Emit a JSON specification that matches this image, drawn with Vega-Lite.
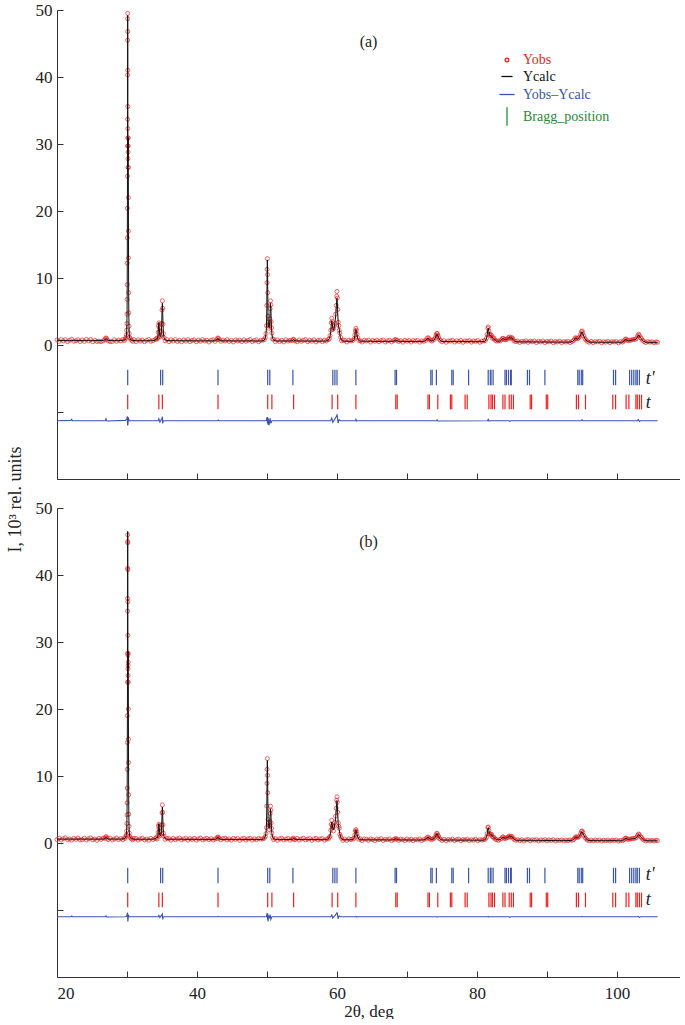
{
"$schema": "https://vega.github.io/schema/vega-lite/v6.json",
"padding": {"left": 6, "top": 1, "right": 0, "bottom": 0},
"bounds": "flush",
"spacing": 29,
"config": {
  "view": {"stroke": null},
  "font": "Liberation Serif",
  "axis": {"domainColor": "#333", "tickColor": "#333", "labelFont": "Liberation Serif", "labelFontSize": 17, "labelColor": "#222", "titleFont": "Liberation Serif", "titleFontSize": 18, "titleFontWeight": "normal", "titleColor": "#222", "grid": false, "tickSize": -6, "labelPadding": 11, "domain": true, "ticks": true},
  "legend": {"labelFont": "Liberation Serif", "labelFontSize": 14, "labelOffset": 6, "rowPadding": 2.5, "symbolOpacity": 1, "symbolStrokeWidth": 1.3, "titleFont": "Liberation Serif"},
  "title": {"font": "Liberation Serif", "fontSize": 16, "fontWeight": "normal", "color": "#222"}
},
"datasets": {
"pattern": [
{"tt":20.0,"oa":0.76,"ca":0.66,"ob":0.5,"cb":0.58},{"tt":20.3,"oa":0.55,"ca":0.66,"ob":0.72,"cb":0.58},{"tt":20.6,"oa":0.82,"ca":0.66,"ob":0.46,"cb":0.58},{"tt":20.9,"oa":0.6,"ca":0.66,"ob":0.64,"cb":0.58},
{"tt":21.2,"oa":0.8,"ca":0.66,"ob":0.77,"cb":0.58},{"tt":21.5,"oa":0.5,"ca":0.66,"ob":0.5,"cb":0.58},{"tt":21.8,"oa":0.7,"ca":0.66,"ob":0.6,"cb":0.58},{"tt":22.1,"oa":0.85,"ca":0.66,"ob":0.42,"cb":0.58},
{"tt":22.4,"oa":0.56,"ca":0.66,"ob":0.7,"cb":0.58},{"tt":22.7,"oa":0.64,"ca":0.66,"ob":0.54,"cb":0.58},{"tt":23.0,"oa":0.78,"ca":0.66,"ob":0.74,"cb":0.58},{"tt":23.3,"oa":0.51,"ca":0.66,"ob":0.46,"cb":0.58},
{"tt":23.6,"oa":0.76,"ca":0.66,"ob":0.5,"cb":0.58},{"tt":23.9,"oa":0.54,"ca":0.66,"ob":0.73,"cb":0.58},{"tt":24.2,"oa":0.84,"ca":0.66,"ob":0.44,"cb":0.58},{"tt":24.5,"oa":0.61,"ca":0.66,"ob":0.64,"cb":0.58},
{"tt":24.8,"oa":0.8,"ca":0.66,"ob":0.77,"cb":0.58},{"tt":25.1,"oa":0.48,"ca":0.66,"ob":0.48,"cb":0.58},{"tt":25.4,"oa":0.7,"ca":0.66,"ob":0.6,"cb":0.58},{"tt":25.7,"oa":0.52,"ca":0.66,"ob":0.4,"cb":0.58},
{"tt":26.0,"oa":0.58,"ca":0.66,"ob":0.7,"cb":0.58},{"tt":26.3,"oa":0.5,"ca":0.66,"ob":0.54,"cb":0.58},{"tt":26.6,"oa":0.62,"ca":0.67,"ob":0.74,"cb":0.59},{"tt":26.85,"oa":0.8,"ca":0.75,"ob":0.7,"cb":0.65},
{"tt":26.95,"oa":1.05,"ca":0.92,"ob":0.88,"cb":0.8},{"tt":27.05,"oa":1.0,"ca":0.95,"ob":0.95,"cb":0.82},{"tt":27.15,"oa":0.82,"ca":0.8,"ob":0.7,"cb":0.68},{"tt":27.3,"oa":0.6,"ca":0.68,"ob":0.5,"cb":0.6},
{"tt":27.6,"oa":0.5,"ca":0.66,"ob":0.72,"cb":0.58},{"tt":27.9,"oa":0.52,"ca":0.66,"ob":0.46,"cb":0.58},{"tt":28.2,"oa":0.78,"ca":0.66,"ob":0.6,"cb":0.58},{"tt":28.5,"oa":0.55,"ca":0.66,"ob":0.75,"cb":0.58},
{"tt":28.8,"oa":0.74,"ca":0.66,"ob":0.5,"cb":0.58},{"tt":29.1,"oa":0.6,"ca":0.67,"ob":0.66,"cb":0.59},{"tt":29.4,"oa":0.82,"ca":0.69,"ob":0.5,"cb":0.61},{"tt":29.6,"oa":0.66,"ca":0.73,"ob":0.75,"cb":0.65},
{"tt":29.75,"oa":0.9,"ca":0.82,"ob":0.7,"cb":0.74},{"tt":29.85,"oa":1.1,"ca":1.0,"ob":1.0,"cb":0.95},{"tt":29.9,"oa":1.5,"ca":1.3,"ob":1.2,"cb":1.2},{"tt":29.95,"oa":2.2,"ca":2.0,"ob":1.8,"cb":1.9},
{"tt":29.98,"oa":3.2,"ca":3.1,"ob":2.9,"cb":3.0},{"tt":30.0,"oa":4.6,"ca":4.4,"ob":4.2,"cb":4.3},{"tt":30.02,"oa":6.8,"ca":6.5,"ob":6.0,"cb":6.3},{"tt":30.03,"oa":9.0,"ca":8.8,"ob":8.2,"cb":8.6},
{"tt":30.04,"oa":12.2,"ca":11.8,"ob":11.0,"cb":11.5},{"tt":30.05,"oa":16.0,"ca":15.8,"ob":15.0,"cb":15.4},{"tt":30.06,"oa":20.4,"ca":20.0,"ob":19.0,"cb":19.2},{"tt":30.07,"oa":25.2,"ca":25.8,"ob":24.0,"cb":24.5},
{"tt":30.075,"oa":29.7,"ca":30.0,"ob":28.3,"cb":28.5},{"tt":30.08,"oa":33.7,"ca":35.0,"ob":34.6,"cb":33.0},{"tt":30.085,"oa":40.3,"ca":40.5,"ob":36.5,"cb":38.0},{"tt":30.09,"oa":45.5,"ca":45.5,"ob":41.0,"cb":42.5},
{"tt":30.095,"oa":48.7,"ca":48.5,"ob":45.0,"cb":45.5},{"tt":30.1,"oa":49.5,"ca":49.2,"ob":46.0,"cb":46.5},{"tt":30.105,"oa":46.8,"ca":48.0,"ob":44.8,"cb":45.5},{"tt":30.11,"oa":41.0,"ca":44.5,"ob":40.8,"cb":42.0},
{"tt":30.115,"oa":35.6,"ca":40.0,"ob":36.0,"cb":37.5},{"tt":30.12,"oa":32.3,"ca":35.0,"ob":31.0,"cb":33.0},{"tt":30.13,"oa":30.9,"ca":31.0,"ob":28.0,"cb":29.0},{"tt":30.14,"oa":27.8,"ca":28.5,"ob":26.0,"cb":26.8},
{"tt":30.15,"oa":26.5,"ca":27.5,"ob":25.0,"cb":26.0},{"tt":30.16,"oa":28.8,"ca":29.5,"ob":26.5,"cb":27.2},{"tt":30.17,"oa":30.9,"ca":31.0,"ob":28.3,"cb":28.6},{"tt":30.18,"oa":29.7,"ca":30.0,"ob":27.0,"cb":27.5},
{"tt":30.19,"oa":26.5,"ca":26.5,"ob":24.0,"cb":24.3},{"tt":30.2,"oa":22.0,"ca":21.5,"ob":20.0,"cb":19.8},{"tt":30.21,"oa":17.0,"ca":16.8,"ob":15.5,"cb":15.4},{"tt":30.22,"oa":13.0,"ca":12.8,"ob":12.0,"cb":11.8},
{"tt":30.24,"oa":7.8,"ca":7.6,"ob":7.2,"cb":7.0},{"tt":30.26,"oa":4.8,"ca":4.6,"ob":4.3,"cb":4.2},{"tt":30.29,"oa":2.8,"ca":2.7,"ob":2.5,"cb":2.5},{"tt":30.33,"oa":1.7,"ca":1.6,"ob":1.5,"cb":1.5},
{"tt":30.4,"oa":1.1,"ca":1.05,"ob":1.0,"cb":0.95},{"tt":30.5,"oa":0.9,"ca":0.82,"ob":0.75,"cb":0.75},{"tt":30.65,"oa":0.7,"ca":0.72,"ob":0.62,"cb":0.64},{"tt":30.8,"oa":0.55,"ca":0.68,"ob":0.48,"cb":0.6},
{"tt":31.0,"oa":0.8,"ca":0.66,"ob":0.7,"cb":0.58},{"tt":31.3,"oa":0.5,"ca":0.64,"ob":0.68,"cb":0.56},{"tt":31.6,"oa":0.78,"ca":0.64,"ob":0.44,"cb":0.56},{"tt":31.9,"oa":0.58,"ca":0.64,"ob":0.62,"cb":0.56},
{"tt":32.2,"oa":0.74,"ca":0.64,"ob":0.72,"cb":0.56},{"tt":32.5,"oa":0.5,"ca":0.64,"ob":0.46,"cb":0.56},{"tt":32.8,"oa":0.7,"ca":0.64,"ob":0.6,"cb":0.56},{"tt":33.1,"oa":0.82,"ca":0.64,"ob":0.4,"cb":0.56},
{"tt":33.4,"oa":0.55,"ca":0.64,"ob":0.7,"cb":0.56},{"tt":33.7,"oa":0.66,"ca":0.65,"ob":0.52,"cb":0.57},{"tt":34.0,"oa":0.8,"ca":0.7,"ob":0.66,"cb":0.62},{"tt":34.2,"oa":0.95,"ca":0.9,"ob":0.8,"cb":0.78},
{"tt":34.3,"oa":0.9,"ca":0.83,"ob":0.6,"cb":0.72},{"tt":34.4,"oa":1.1,"ca":1.18,"ob":1.1,"cb":1.02},{"tt":34.45,"oa":1.9,"ca":1.72,"ob":1.6,"cb":1.48},{"tt":34.5,"oa":2.9,"ca":2.66,"ob":2.5,"cb":2.28},
{"tt":34.55,"oa":3.3,"ca":3.4,"ob":2.8,"cb":2.91},{"tt":34.6,"oa":2.6,"ca":2.74,"ob":2.2,"cb":2.35},{"tt":34.65,"oa":2.0,"ca":1.83,"ob":1.7,"cb":1.58},{"tt":34.7,"oa":1.2,"ca":1.35,"ob":1.05,"cb":1.17},
{"tt":34.8,"oa":1.35,"ca":1.22,"ob":1.2,"cb":1.06},{"tt":34.9,"oa":2.0,"ca":1.84,"ob":1.8,"cb":1.59},{"tt":34.95,"oa":3.2,"ca":2.92,"ob":2.7,"cb":2.51},{"tt":35.0,"oa":5.2,"ca":4.86,"ob":4.5,"cb":4.18},
{"tt":35.05,"oa":6.6,"ca":6.24,"ob":5.7,"cb":5.36},{"tt":35.1,"oa":5.5,"ca":4.9,"ob":4.6,"cb":4.2},{"tt":35.15,"oa":3.1,"ca":2.9,"ob":2.7,"cb":2.5},{"tt":35.2,"oa":1.7,"ca":1.8,"ob":1.45,"cb":1.55},
{"tt":35.3,"oa":1.1,"ca":1.03,"ob":1.0,"cb":0.9},{"tt":35.45,"oa":0.62,"ca":0.75,"ob":0.55,"cb":0.66},{"tt":35.7,"oa":0.8,"ca":0.66,"ob":0.7,"cb":0.57},
{"tt":36.0,"oa":0.5,"ca":0.64,"ob":0.66,"cb":0.56},{"tt":36.3,"oa":0.78,"ca":0.64,"ob":0.42,"cb":0.56},{"tt":36.6,"oa":0.6,"ca":0.64,"ob":0.7,"cb":0.56},{"tt":36.9,"oa":0.82,"ca":0.64,"ob":0.5,"cb":0.56},
{"tt":37.2,"oa":0.52,"ca":0.64,"ob":0.62,"cb":0.56},{"tt":37.5,"oa":0.7,"ca":0.64,"ob":0.74,"cb":0.56},{"tt":37.8,"oa":0.48,"ca":0.64,"ob":0.45,"cb":0.56},{"tt":38.1,"oa":0.76,"ca":0.63,"ob":0.6,"cb":0.55},
{"tt":38.4,"oa":0.58,"ca":0.63,"ob":0.72,"cb":0.55},{"tt":38.7,"oa":0.8,"ca":0.63,"ob":0.44,"cb":0.55},{"tt":39.0,"oa":0.5,"ca":0.63,"ob":0.66,"cb":0.55},{"tt":39.3,"oa":0.68,"ca":0.63,"ob":0.52,"cb":0.55},
{"tt":39.6,"oa":0.76,"ca":0.63,"ob":0.7,"cb":0.55},{"tt":39.9,"oa":0.48,"ca":0.62,"ob":0.42,"cb":0.54},{"tt":40.2,"oa":0.74,"ca":0.62,"ob":0.62,"cb":0.54},{"tt":40.5,"oa":0.56,"ca":0.62,"ob":0.73,"cb":0.54},
{"tt":40.8,"oa":0.8,"ca":0.62,"ob":0.46,"cb":0.54},{"tt":41.1,"oa":0.6,"ca":0.62,"ob":0.6,"cb":0.54},{"tt":41.4,"oa":0.72,"ca":0.62,"ob":0.7,"cb":0.54},{"tt":41.7,"oa":0.45,"ca":0.62,"ob":0.5,"cb":0.54},
{"tt":42.0,"oa":0.7,"ca":0.62,"ob":0.64,"cb":0.54},{"tt":42.3,"oa":0.78,"ca":0.62,"ob":0.44,"cb":0.54},{"tt":42.6,"oa":0.55,"ca":0.63,"ob":0.6,"cb":0.55},{"tt":42.85,"oa":0.8,"ca":0.75,"ob":0.68,"cb":0.66},
{"tt":42.95,"oa":1.05,"ca":0.98,"ob":0.9,"cb":0.86},{"tt":43.05,"oa":1.0,"ca":0.95,"ob":0.85,"cb":0.84},{"tt":43.15,"oa":0.78,"ca":0.74,"ob":0.7,"cb":0.64},{"tt":43.4,"oa":0.55,"ca":0.63,"ob":0.46,"cb":0.55},
{"tt":43.7,"oa":0.74,"ca":0.62,"ob":0.66,"cb":0.54},{"tt":44.0,"oa":0.6,"ca":0.62,"ob":0.72,"cb":0.54},{"tt":44.3,"oa":0.8,"ca":0.62,"ob":0.48,"cb":0.54},{"tt":44.6,"oa":0.52,"ca":0.62,"ob":0.6,"cb":0.54},
{"tt":44.9,"oa":0.7,"ca":0.62,"ob":0.42,"cb":0.54},{"tt":45.2,"oa":0.45,"ca":0.61,"ob":0.7,"cb":0.53},{"tt":45.5,"oa":0.76,"ca":0.61,"ob":0.54,"cb":0.53},{"tt":45.8,"oa":0.6,"ca":0.61,"ob":0.68,"cb":0.53},
{"tt":46.1,"oa":0.72,"ca":0.61,"ob":0.4,"cb":0.53},{"tt":46.4,"oa":0.5,"ca":0.61,"ob":0.62,"cb":0.53},{"tt":46.7,"oa":0.78,"ca":0.61,"ob":0.72,"cb":0.53},{"tt":47.0,"oa":0.55,"ca":0.61,"ob":0.46,"cb":0.53},
{"tt":47.3,"oa":0.7,"ca":0.61,"ob":0.6,"cb":0.53},{"tt":47.6,"oa":0.82,"ca":0.61,"ob":0.7,"cb":0.53},{"tt":47.9,"oa":0.5,"ca":0.61,"ob":0.44,"cb":0.53},{"tt":48.2,"oa":0.66,"ca":0.6,"ob":0.62,"cb":0.52},
{"tt":48.5,"oa":0.76,"ca":0.6,"ob":0.5,"cb":0.52},{"tt":48.8,"oa":0.48,"ca":0.6,"ob":0.7,"cb":0.52},{"tt":49.1,"oa":0.7,"ca":0.61,"ob":0.58,"cb":0.53},{"tt":49.4,"oa":0.72,"ca":0.64,"ob":0.62,"cb":0.56},
{"tt":49.6,"oa":0.8,"ca":0.72,"ob":0.7,"cb":0.64},{"tt":49.75,"oa":1.1,"ca":1.05,"ob":0.95,"cb":0.96},{"tt":49.85,"oa":1.7,"ca":1.56,"ob":1.4,"cb":1.46},{"tt":49.92,"oa":2.9,"ca":2.64,"ob":2.3,"cb":2.51},
{"tt":49.97,"oa":5.9,"ca":5.4,"ob":5.5,"cb":5.2},{"tt":50.0,"oa":9.3,"ca":8.76,"ob":8.9,"cb":8.48},{"tt":50.02,"oa":11.3,"ca":10.8,"ob":11.0,"cb":10.5},{"tt":50.05,"oa":12.9,"ca":12.7,"ob":12.6,"cb":12.3},
{"tt":50.08,"oa":10.5,"ca":10.9,"ob":10.1,"cb":10.55},{"tt":50.11,"oa":7.8,"ca":7.3,"ob":7.5,"cb":7.0},{"tt":50.15,"oa":4.3,"ca":3.9,"ob":3.5,"cb":3.7},{"tt":50.2,"oa":3.4,"ca":3.1,"ob":3.1,"cb":2.9},
{"tt":50.25,"oa":2.5,"ca":2.7,"ob":2.6,"cb":2.4},{"tt":50.3,"oa":2.8,"ca":2.6,"ob":2.0,"cb":2.2},{"tt":50.35,"oa":3.2,"ca":2.9,"ob":2.6,"cb":2.4},{"tt":50.4,"oa":3.9,"ca":3.6,"ob":3.2,"cb":3.0},
{"tt":50.45,"oa":5.4,"ca":5.0,"ob":4.4,"cb":4.1},{"tt":50.5,"oa":6.6,"ca":6.2,"ob":5.5,"cb":5.1},{"tt":50.55,"oa":6.0,"ca":5.6,"ob":4.9,"cb":4.6},{"tt":50.6,"oa":3.5,"ca":3.8,"ob":3.0,"cb":3.2},
{"tt":50.65,"oa":2.6,"ca":2.4,"ob":2.2,"cb":2.0},{"tt":50.7,"oa":1.8,"ca":1.6,"ob":1.5,"cb":1.4},{"tt":50.8,"oa":0.9,"ca":1.0,"ob":0.8,"cb":0.85},{"tt":50.95,"oa":0.85,"ca":0.72,"ob":0.5,"cb":0.62},
{"tt":51.2,"oa":0.5,"ca":0.62,"ob":0.66,"cb":0.53},{"tt":51.5,"oa":0.75,"ca":0.6,"ob":0.4,"cb":0.52},{"tt":51.8,"oa":0.52,"ca":0.6,"ob":0.62,"cb":0.52},{"tt":52.1,"oa":0.7,"ca":0.6,"ob":0.7,"cb":0.52},
{"tt":52.4,"oa":0.46,"ca":0.6,"ob":0.45,"cb":0.52},{"tt":52.7,"oa":0.78,"ca":0.6,"ob":0.58,"cb":0.52},{"tt":53.0,"oa":0.58,"ca":0.6,"ob":0.68,"cb":0.52},{"tt":53.3,"oa":0.7,"ca":0.6,"ob":0.42,"cb":0.52},
{"tt":53.6,"oa":0.66,"ca":0.64,"ob":0.6,"cb":0.55},{"tt":53.75,"oa":0.85,"ca":0.78,"ob":0.72,"cb":0.68},{"tt":53.85,"oa":0.8,"ca":0.76,"ob":0.6,"cb":0.66},{"tt":54.0,"oa":0.62,"ca":0.63,"ob":0.5,"cb":0.54},
{"tt":54.3,"oa":0.48,"ca":0.6,"ob":0.7,"cb":0.52},{"tt":54.6,"oa":0.76,"ca":0.6,"ob":0.44,"cb":0.52},{"tt":54.9,"oa":0.55,"ca":0.6,"ob":0.6,"cb":0.52},{"tt":55.2,"oa":0.7,"ca":0.6,"ob":0.72,"cb":0.52},
{"tt":55.5,"oa":0.8,"ca":0.59,"ob":0.46,"cb":0.51},{"tt":55.8,"oa":0.5,"ca":0.59,"ob":0.58,"cb":0.51},{"tt":56.1,"oa":0.72,"ca":0.59,"ob":0.68,"cb":0.51},{"tt":56.4,"oa":0.56,"ca":0.59,"ob":0.4,"cb":0.51},
{"tt":56.7,"oa":0.78,"ca":0.59,"ob":0.62,"cb":0.51},{"tt":57.0,"oa":0.46,"ca":0.58,"ob":0.7,"cb":0.5},{"tt":57.3,"oa":0.68,"ca":0.58,"ob":0.46,"cb":0.5},{"tt":57.6,"oa":0.74,"ca":0.58,"ob":0.6,"cb":0.5},
{"tt":57.9,"oa":0.5,"ca":0.58,"ob":0.66,"cb":0.5},{"tt":58.2,"oa":0.72,"ca":0.58,"ob":0.42,"cb":0.5},{"tt":58.5,"oa":0.6,"ca":0.6,"ob":0.6,"cb":0.52},{"tt":58.75,"oa":0.8,"ca":0.7,"ob":0.62,"cb":0.6},
{"tt":58.9,"oa":0.95,"ca":0.95,"ob":0.82,"cb":0.82},{"tt":59.0,"oa":1.4,"ca":1.25,"ob":1.0,"cb":1.1},{"tt":59.1,"oa":2.2,"ca":2.0,"ob":1.9,"cb":1.75},{"tt":59.18,"oa":3.3,"ca":3.0,"ob":2.8,"cb":2.6},
{"tt":59.25,"oa":4.0,"ca":3.6,"ob":3.4,"cb":3.1},{"tt":59.32,"oa":3.5,"ca":3.2,"ob":2.6,"cb":2.8},{"tt":59.4,"oa":2.3,"ca":2.5,"ob":2.4,"cb":2.2},{"tt":59.5,"oa":2.5,"ca":2.2,"ob":1.8,"cb":1.95},
{"tt":59.6,"oa":2.9,"ca":2.6,"ob":2.5,"cb":2.3},{"tt":59.7,"oa":3.2,"ca":3.3,"ob":3.1,"cb":2.9},{"tt":59.8,"oa":4.6,"ca":4.2,"ob":4.0,"cb":3.7},{"tt":59.88,"oa":5.9,"ca":5.4,"ob":5.2,"cb":4.8},
{"tt":59.95,"oa":7.3,"ca":6.6,"ob":6.4,"cb":5.9},{"tt":60.0,"oa":8.0,"ca":7.0,"ob":6.9,"cb":6.3},{"tt":60.05,"oa":7.0,"ca":6.3,"ob":6.1,"cb":5.6},{"tt":60.1,"oa":5.3,"ca":4.8,"ob":4.6,"cb":4.3},
{"tt":60.18,"oa":3.4,"ca":3.1,"ob":3.0,"cb":2.8},{"tt":60.25,"oa":2.9,"ca":2.6,"ob":2.5,"cb":2.3},{"tt":60.32,"oa":2.2,"ca":2.4,"ob":2.2,"cb":2.0},{"tt":60.4,"oa":1.8,"ca":1.6,"ob":1.3,"cb":1.4},
{"tt":60.5,"oa":1.15,"ca":1.05,"ob":1.0,"cb":0.92},{"tt":60.65,"oa":0.62,"ca":0.72,"ob":0.7,"cb":0.62},{"tt":60.85,"oa":0.75,"ca":0.6,"ob":0.4,"cb":0.5},
{"tt":61.1,"oa":0.7,"ca":0.56,"ob":0.6,"cb":0.48},{"tt":61.4,"oa":0.45,"ca":0.56,"ob":0.38,"cb":0.48},{"tt":61.7,"oa":0.72,"ca":0.56,"ob":0.62,"cb":0.48},{"tt":62.0,"oa":0.6,"ca":0.56,"ob":0.5,"cb":0.48},
{"tt":62.3,"oa":0.7,"ca":0.6,"ob":0.6,"cb":0.52},{"tt":62.45,"oa":0.95,"ca":0.85,"ob":0.75,"cb":0.75},{"tt":62.55,"oa":1.5,"ca":1.4,"ob":1.2,"cb":1.2},{"tt":62.62,"oa":2.1,"ca":2.0,"ob":1.8,"cb":1.7},
{"tt":62.7,"oa":2.5,"ca":2.3,"ob":2.0,"cb":1.95},{"tt":62.78,"oa":2.2,"ca":2.05,"ob":1.75,"cb":1.75},{"tt":62.86,"oa":1.6,"ca":1.5,"ob":1.35,"cb":1.3},{"tt":62.95,"oa":1.1,"ca":1.0,"ob":0.9,"cb":0.9},
{"tt":63.1,"oa":0.7,"ca":0.7,"ob":0.55,"cb":0.6},{"tt":63.35,"oa":0.62,"ca":0.57,"ob":0.6,"cb":0.49},{"tt":63.6,"oa":0.45,"ca":0.56,"ob":0.36,"cb":0.48},{"tt":63.9,"oa":0.7,"ca":0.56,"ob":0.6,"cb":0.48},
{"tt":64.2,"oa":0.6,"ca":0.56,"ob":0.56,"cb":0.48},{"tt":64.5,"oa":0.74,"ca":0.56,"ob":0.4,"cb":0.48},{"tt":64.8,"oa":0.44,"ca":0.56,"ob":0.62,"cb":0.48},{"tt":65.1,"oa":0.68,"ca":0.55,"ob":0.52,"cb":0.47},
{"tt":65.4,"oa":0.56,"ca":0.55,"ob":0.36,"cb":0.47},{"tt":65.7,"oa":0.72,"ca":0.55,"ob":0.6,"cb":0.47},{"tt":66.0,"oa":0.48,"ca":0.55,"ob":0.5,"cb":0.47},{"tt":66.3,"oa":0.66,"ca":0.55,"ob":0.66,"cb":0.47},
{"tt":66.6,"oa":0.74,"ca":0.55,"ob":0.38,"cb":0.47},{"tt":66.9,"oa":0.45,"ca":0.55,"ob":0.56,"cb":0.47},{"tt":67.2,"oa":0.62,"ca":0.54,"ob":0.48,"cb":0.46},{"tt":67.5,"oa":0.7,"ca":0.54,"ob":0.62,"cb":0.46},
{"tt":67.8,"oa":0.46,"ca":0.54,"ob":0.36,"cb":0.46},{"tt":68.1,"oa":0.66,"ca":0.56,"ob":0.52,"cb":0.48},{"tt":68.3,"oa":0.8,"ca":0.7,"ob":0.66,"cb":0.6},{"tt":68.45,"oa":0.78,"ca":0.74,"ob":0.58,"cb":0.62},
{"tt":68.6,"oa":0.7,"ca":0.64,"ob":0.6,"cb":0.54},{"tt":68.8,"oa":0.52,"ca":0.55,"ob":0.4,"cb":0.47},{"tt":69.1,"oa":0.66,"ca":0.54,"ob":0.58,"cb":0.46},{"tt":69.4,"oa":0.42,"ca":0.54,"ob":0.5,"cb":0.46},
{"tt":69.7,"oa":0.7,"ca":0.54,"ob":0.36,"cb":0.46},{"tt":70.0,"oa":0.56,"ca":0.53,"ob":0.6,"cb":0.45},{"tt":70.3,"oa":0.68,"ca":0.53,"ob":0.44,"cb":0.45},{"tt":70.6,"oa":0.44,"ca":0.53,"ob":0.58,"cb":0.45},
{"tt":70.9,"oa":0.66,"ca":0.53,"ob":0.36,"cb":0.45},{"tt":71.2,"oa":0.58,"ca":0.53,"ob":0.54,"cb":0.45},{"tt":71.5,"oa":0.7,"ca":0.53,"ob":0.46,"cb":0.45},{"tt":71.8,"oa":0.42,"ca":0.53,"ob":0.6,"cb":0.45},
{"tt":72.1,"oa":0.62,"ca":0.53,"ob":0.36,"cb":0.45},{"tt":72.4,"oa":0.56,"ca":0.55,"ob":0.52,"cb":0.47},{"tt":72.7,"oa":0.7,"ca":0.68,"ob":0.6,"cb":0.58},{"tt":72.85,"oa":0.95,"ca":0.9,"ob":0.8,"cb":0.78},
{"tt":73.0,"oa":1.1,"ca":1.0,"ob":0.9,"cb":0.85},{"tt":73.15,"oa":0.95,"ca":0.88,"ob":0.74,"cb":0.75},{"tt":73.3,"oa":0.75,"ca":0.7,"ob":0.6,"cb":0.6},{"tt":73.5,"oa":0.6,"ca":0.62,"ob":0.5,"cb":0.53},
{"tt":73.7,"oa":0.72,"ca":0.66,"ob":0.6,"cb":0.56},{"tt":73.9,"oa":0.85,"ca":0.8,"ob":0.72,"cb":0.68},{"tt":74.05,"oa":1.1,"ca":1.05,"ob":0.9,"cb":0.9},{"tt":74.15,"oa":1.45,"ca":1.35,"ob":1.2,"cb":1.15},
{"tt":74.25,"oa":1.75,"ca":1.6,"ob":1.45,"cb":1.38},{"tt":74.32,"oa":1.7,"ca":1.58,"ob":1.4,"cb":1.35},{"tt":74.4,"oa":1.45,"ca":1.35,"ob":1.15,"cb":1.15},{"tt":74.5,"oa":1.2,"ca":1.15,"ob":1.05,"cb":1.0},
{"tt":74.6,"oa":0.9,"ca":0.9,"ob":0.7,"cb":0.76},{"tt":74.75,"oa":0.7,"ca":0.65,"ob":0.6,"cb":0.56},{"tt":75.0,"oa":0.48,"ca":0.53,"ob":0.38,"cb":0.45},{"tt":75.3,"oa":0.66,"ca":0.52,"ob":0.56,"cb":0.44},
{"tt":75.6,"oa":0.4,"ca":0.52,"ob":0.34,"cb":0.44},{"tt":75.9,"oa":0.62,"ca":0.52,"ob":0.52,"cb":0.44},{"tt":76.2,"oa":0.58,"ca":0.53,"ob":0.44,"cb":0.45},{"tt":76.5,"oa":0.7,"ca":0.54,"ob":0.58,"cb":0.46},
{"tt":76.8,"oa":0.44,"ca":0.52,"ob":0.36,"cb":0.44},{"tt":77.1,"oa":0.64,"ca":0.51,"ob":0.5,"cb":0.43},{"tt":77.4,"oa":0.52,"ca":0.51,"ob":0.58,"cb":0.43},{"tt":77.7,"oa":0.68,"ca":0.51,"ob":0.34,"cb":0.43},
{"tt":78.0,"oa":0.4,"ca":0.51,"ob":0.5,"cb":0.43},{"tt":78.3,"oa":0.62,"ca":0.52,"ob":0.46,"cb":0.44},{"tt":78.6,"oa":0.58,"ca":0.52,"ob":0.56,"cb":0.44},{"tt":78.9,"oa":0.66,"ca":0.51,"ob":0.36,"cb":0.43},
{"tt":79.2,"oa":0.42,"ca":0.5,"ob":0.5,"cb":0.42},{"tt":79.5,"oa":0.6,"ca":0.5,"ob":0.42,"cb":0.42},{"tt":79.8,"oa":0.54,"ca":0.5,"ob":0.56,"cb":0.42},{"tt":80.1,"oa":0.66,"ca":0.5,"ob":0.34,"cb":0.42},
{"tt":80.4,"oa":0.4,"ca":0.5,"ob":0.5,"cb":0.42},{"tt":80.7,"oa":0.58,"ca":0.5,"ob":0.44,"cb":0.42},{"tt":81.0,"oa":0.62,"ca":0.52,"ob":0.52,"cb":0.44},{"tt":81.2,"oa":0.7,"ca":0.62,"ob":0.58,"cb":0.54},
{"tt":81.35,"oa":1.0,"ca":0.95,"ob":0.85,"cb":0.85},{"tt":81.45,"oa":1.6,"ca":1.5,"ob":1.4,"cb":1.35},{"tt":81.55,"oa":2.5,"ca":2.3,"ob":2.3,"cb":2.1},{"tt":81.62,"oa":2.7,"ca":2.5,"ob":2.4,"cb":2.3},
{"tt":81.7,"oa":2.1,"ca":2.0,"ob":1.9,"cb":1.85},{"tt":81.78,"oa":1.6,"ca":1.5,"ob":1.35,"cb":1.35},{"tt":81.88,"oa":1.4,"ca":1.35,"ob":1.3,"cb":1.25},{"tt":81.98,"oa":1.55,"ca":1.45,"ob":1.35,"cb":1.35},
{"tt":82.08,"oa":1.4,"ca":1.3,"ob":1.25,"cb":1.2},{"tt":82.2,"oa":1.0,"ca":1.05,"ob":0.95,"cb":0.95},{"tt":82.35,"oa":1.1,"ca":1.0,"ob":0.88,"cb":0.9},{"tt":82.45,"oa":0.95,"ca":0.9,"ob":0.8,"cb":0.8},
{"tt":82.6,"oa":0.7,"ca":0.72,"ob":0.58,"cb":0.62},{"tt":82.8,"oa":0.58,"ca":0.58,"ob":0.5,"cb":0.5},{"tt":83.05,"oa":0.62,"ca":0.56,"ob":0.4,"cb":0.48},{"tt":83.3,"oa":0.6,"ca":0.6,"ob":0.56,"cb":0.52},
{"tt":83.5,"oa":0.78,"ca":0.75,"ob":0.66,"cb":0.66},{"tt":83.65,"oa":1.0,"ca":0.95,"ob":0.9,"cb":0.86},{"tt":83.75,"oa":1.0,"ca":0.98,"ob":0.92,"cb":0.88},{"tt":83.9,"oa":0.82,"ca":0.8,"ob":0.7,"cb":0.72},
{"tt":84.05,"oa":0.8,"ca":0.78,"ob":0.68,"cb":0.7},{"tt":84.2,"oa":0.85,"ca":0.82,"ob":0.75,"cb":0.74},{"tt":84.35,"oa":0.9,"ca":0.92,"ob":0.82,"cb":0.82},{"tt":84.5,"oa":1.1,"ca":1.05,"ob":0.95,"cb":0.94},
{"tt":84.62,"oa":1.2,"ca":1.15,"ob":1.05,"cb":1.02},{"tt":84.75,"oa":1.0,"ca":1.02,"ob":0.9,"cb":0.92},{"tt":84.88,"oa":1.05,"ca":1.05,"ob":0.98,"cb":0.95},{"tt":85.0,"oa":1.1,"ca":1.05,"ob":0.96,"cb":0.95},
{"tt":85.12,"oa":0.9,"ca":0.85,"ob":0.72,"cb":0.76},{"tt":85.3,"oa":0.62,"ca":0.62,"ob":0.56,"cb":0.54},{"tt":85.55,"oa":0.5,"ca":0.5,"ob":0.4,"cb":0.42},{"tt":85.8,"oa":0.6,"ca":0.47,"ob":0.5,"cb":0.4},
{"tt":86.1,"oa":0.38,"ca":0.47,"ob":0.36,"cb":0.4},{"tt":86.4,"oa":0.56,"ca":0.47,"ob":0.48,"cb":0.4},{"tt":86.7,"oa":0.5,"ca":0.47,"ob":0.3,"cb":0.4},{"tt":87.0,"oa":0.62,"ca":0.47,"ob":0.46,"cb":0.4},
{"tt":87.3,"oa":0.4,"ca":0.47,"ob":0.52,"cb":0.4},{"tt":87.6,"oa":0.58,"ca":0.48,"ob":0.34,"cb":0.41},{"tt":87.9,"oa":0.5,"ca":0.46,"ob":0.48,"cb":0.39},{"tt":88.2,"oa":0.6,"ca":0.46,"ob":0.42,"cb":0.39},
{"tt":88.5,"oa":0.36,"ca":0.46,"ob":0.5,"cb":0.39},{"tt":88.8,"oa":0.56,"ca":0.46,"ob":0.3,"cb":0.39},{"tt":89.1,"oa":0.46,"ca":0.45,"ob":0.46,"cb":0.38},{"tt":89.4,"oa":0.6,"ca":0.45,"ob":0.4,"cb":0.38},
{"tt":89.7,"oa":0.36,"ca":0.45,"ob":0.5,"cb":0.38},{"tt":90.0,"oa":0.54,"ca":0.45,"ob":0.32,"cb":0.38},{"tt":90.3,"oa":0.46,"ca":0.44,"ob":0.46,"cb":0.37},{"tt":90.6,"oa":0.58,"ca":0.44,"ob":0.38,"cb":0.37},
{"tt":90.9,"oa":0.34,"ca":0.44,"ob":0.48,"cb":0.37},{"tt":91.2,"oa":0.52,"ca":0.44,"ob":0.3,"cb":0.37},{"tt":91.5,"oa":0.46,"ca":0.44,"ob":0.44,"cb":0.37},{"tt":91.8,"oa":0.58,"ca":0.43,"ob":0.38,"cb":0.36},
{"tt":92.1,"oa":0.34,"ca":0.43,"ob":0.46,"cb":0.36},{"tt":92.4,"oa":0.52,"ca":0.43,"ob":0.3,"cb":0.36},{"tt":92.7,"oa":0.44,"ca":0.43,"ob":0.42,"cb":0.36},{"tt":93.0,"oa":0.56,"ca":0.43,"ob":0.36,"cb":0.36},
{"tt":93.3,"oa":0.36,"ca":0.44,"ob":0.46,"cb":0.37},{"tt":93.6,"oa":0.52,"ca":0.5,"ob":0.4,"cb":0.42},{"tt":93.8,"oa":0.66,"ca":0.62,"ob":0.52,"cb":0.52},{"tt":93.95,"oa":0.9,"ca":0.85,"ob":0.72,"cb":0.72},
{"tt":94.08,"oa":1.1,"ca":1.05,"ob":0.92,"cb":0.9},{"tt":94.2,"oa":1.0,"ca":0.98,"ob":0.85,"cb":0.84},{"tt":94.35,"oa":0.95,"ca":0.9,"ob":0.82,"cb":0.8},{"tt":94.5,"oa":1.05,"ca":1.0,"ob":0.92,"cb":0.88},
{"tt":94.65,"oa":1.2,"ca":1.15,"ob":1.05,"cb":1.0},{"tt":94.8,"oa":1.6,"ca":1.5,"ob":1.4,"cb":1.3},{"tt":94.92,"oa":2.0,"ca":1.85,"ob":1.75,"cb":1.6},{"tt":95.02,"oa":2.1,"ca":1.95,"ob":1.8,"cb":1.7},
{"tt":95.12,"oa":1.8,"ca":1.7,"ob":1.55,"cb":1.5},{"tt":95.25,"oa":1.35,"ca":1.3,"ob":1.15,"cb":1.15},{"tt":95.4,"oa":1.0,"ca":1.0,"ob":0.85,"cb":0.88},{"tt":95.55,"oa":0.78,"ca":0.75,"ob":0.66,"cb":0.66},
{"tt":95.75,"oa":0.55,"ca":0.55,"ob":0.45,"cb":0.46},{"tt":96.0,"oa":0.4,"ca":0.45,"ob":0.32,"cb":0.38},{"tt":96.3,"oa":0.54,"ca":0.42,"ob":0.44,"cb":0.36},{"tt":96.6,"oa":0.34,"ca":0.42,"ob":0.3,"cb":0.36},
{"tt":96.9,"oa":0.5,"ca":0.42,"ob":0.44,"cb":0.36},{"tt":97.2,"oa":0.46,"ca":0.42,"ob":0.36,"cb":0.36},{"tt":97.5,"oa":0.56,"ca":0.41,"ob":0.46,"cb":0.35},{"tt":97.8,"oa":0.32,"ca":0.41,"ob":0.28,"cb":0.35},
{"tt":98.1,"oa":0.5,"ca":0.41,"ob":0.42,"cb":0.35},{"tt":98.4,"oa":0.42,"ca":0.41,"ob":0.34,"cb":0.35},{"tt":98.7,"oa":0.54,"ca":0.41,"ob":0.44,"cb":0.35},{"tt":99.0,"oa":0.34,"ca":0.41,"ob":0.3,"cb":0.35},
{"tt":99.3,"oa":0.5,"ca":0.42,"ob":0.42,"cb":0.36},{"tt":99.6,"oa":0.46,"ca":0.43,"ob":0.38,"cb":0.37},{"tt":99.9,"oa":0.52,"ca":0.42,"ob":0.44,"cb":0.36},{"tt":100.2,"oa":0.32,"ca":0.4,"ob":0.28,"cb":0.34},
{"tt":100.5,"oa":0.5,"ca":0.4,"ob":0.4,"cb":0.34},{"tt":100.8,"oa":0.44,"ca":0.43,"ob":0.34,"cb":0.37},{"tt":101.0,"oa":0.6,"ca":0.55,"ob":0.5,"cb":0.47},{"tt":101.15,"oa":0.85,"ca":0.8,"ob":0.7,"cb":0.68},
{"tt":101.3,"oa":0.9,"ca":0.85,"ob":0.74,"cb":0.72},{"tt":101.45,"oa":0.75,"ca":0.7,"ob":0.6,"cb":0.6},{"tt":101.6,"oa":0.65,"ca":0.62,"ob":0.55,"cb":0.54},{"tt":101.8,"oa":0.7,"ca":0.66,"ob":0.56,"cb":0.56},
{"tt":102.0,"oa":0.72,"ca":0.7,"ob":0.62,"cb":0.6},{"tt":102.2,"oa":0.8,"ca":0.76,"ob":0.66,"cb":0.65},{"tt":102.4,"oa":0.85,"ca":0.8,"ob":0.7,"cb":0.68},{"tt":102.6,"oa":0.82,"ca":0.78,"ob":0.7,"cb":0.67},
{"tt":102.8,"oa":1.0,"ca":0.95,"ob":0.85,"cb":0.82},{"tt":102.95,"oa":1.35,"ca":1.25,"ob":1.15,"cb":1.08},{"tt":103.08,"oa":1.6,"ca":1.5,"ob":1.35,"cb":1.28},{"tt":103.2,"oa":1.45,"ca":1.35,"ob":1.25,"cb":1.18},
{"tt":103.35,"oa":1.1,"ca":1.05,"ob":0.95,"cb":0.92},{"tt":103.5,"oa":0.95,"ca":0.9,"ob":0.82,"cb":0.8},{"tt":103.65,"oa":0.7,"ca":0.68,"ob":0.6,"cb":0.6},{"tt":103.85,"oa":0.52,"ca":0.5,"ob":0.42,"cb":0.43},
{"tt":104.1,"oa":0.36,"ca":0.42,"ob":0.3,"cb":0.36},{"tt":104.4,"oa":0.5,"ca":0.4,"ob":0.42,"cb":0.34},{"tt":104.7,"oa":0.42,"ca":0.4,"ob":0.32,"cb":0.34},{"tt":105.0,"oa":0.48,"ca":0.39,"ob":0.4,"cb":0.33},
{"tt":105.3,"oa":0.34,"ca":0.39,"ob":0.3,"cb":0.33},{"tt":105.6,"oa":0.46,"ca":0.39,"ob":0.42,"cb":0.33},{"tt":105.8,"oa":0.4,"ca":0.39,"ob":0.36,"cb":0.33}
],
"diff": [
{"tt":20.0,"da":-11.3,"db":-11.0},{"tt":22.0,"da":-11.25,"db":-11.0},{"tt":22.1,"da":-11.1,"db":-10.9},{"tt":22.2,"da":-11.3,"db":-11.0},
{"tt":26.9,"da":-11.3,"db":-11.0},{"tt":27.0,"da":-11.0,"db":-10.85},{"tt":27.1,"da":-11.35,"db":-11.05},{"tt":29.8,"da":-11.25,"db":-11.0},
{"tt":29.95,"da":-11.05,"db":-10.9},{"tt":30.05,"da":-10.65,"db":-10.5},{"tt":30.08,"da":-12.0,"db":-10.4},{"tt":30.1,"da":-10.8,"db":-11.4},
{"tt":30.12,"da":-12.0,"db":-11.7},{"tt":30.15,"da":-11.6,"db":-11.5},{"tt":30.2,"da":-10.8,"db":-10.7},{"tt":30.3,"da":-11.3,"db":-11.0},
{"tt":34.45,"da":-11.3,"db":-11.0},{"tt":34.55,"da":-11.0,"db":-10.8},{"tt":34.7,"da":-11.5,"db":-11.1},{"tt":35.0,"da":-10.95,"db":-10.7},
{"tt":35.05,"da":-10.7,"db":-10.6},{"tt":35.1,"da":-11.7,"db":-11.4},{"tt":35.2,"da":-11.3,"db":-11.0},{"tt":42.95,"da":-11.3,"db":-11.0},
{"tt":43.05,"da":-11.2,"db":-10.95},{"tt":43.15,"da":-11.3,"db":-11.0},{"tt":49.9,"da":-11.3,"db":-11.0},{"tt":50.0,"da":-10.75,"db":-10.6},
{"tt":50.05,"da":-11.0,"db":-10.7},{"tt":50.08,"da":-11.7,"db":-11.45},{"tt":50.11,"da":-10.8,"db":-10.5},{"tt":50.15,"da":-11.9,"db":-11.7},
{"tt":50.2,"da":-11.0,"db":-10.8},{"tt":50.3,"da":-11.95,"db":-11.3},{"tt":50.45,"da":-10.9,"db":-10.7},{"tt":50.55,"da":-11.7,"db":-11.4},
{"tt":50.7,"da":-11.3,"db":-11.0},{"tt":59.1,"da":-11.3,"db":-11.0},{"tt":59.25,"da":-10.9,"db":-10.75},{"tt":59.4,"da":-11.55,"db":-11.2},
{"tt":59.95,"da":-10.6,"db":-10.5},{"tt":60.0,"da":-10.3,"db":-10.4},{"tt":60.05,"da":-10.65,"db":-10.5},{"tt":60.15,"da":-11.65,"db":-11.3},
{"tt":60.3,"da":-11.15,"db":-10.9},{"tt":60.5,"da":-11.3,"db":-11.0},{"tt":62.6,"da":-11.3,"db":-11.0},{"tt":62.7,"da":-11.1,"db":-10.95},
{"tt":62.8,"da":-11.35,"db":-11.05},{"tt":62.9,"da":-11.3,"db":-11.0},{"tt":74.2,"da":-11.3,"db":-11.0},{"tt":74.3,"da":-11.15,"db":-11.05},
{"tt":74.4,"da":-11.35,"db":-11.0},{"tt":81.5,"da":-11.3,"db":-11.0},{"tt":81.6,"da":-11.1,"db":-10.95},{"tt":81.7,"da":-11.35,"db":-11.05},
{"tt":81.8,"da":-11.3,"db":-11.0},{"tt":84.6,"da":-11.3,"db":-11.0},{"tt":84.7,"da":-11.4,"db":-11.1},{"tt":84.8,"da":-11.3,"db":-11.0},
{"tt":94.9,"da":-11.3,"db":-11.0},{"tt":95.0,"da":-11.15,"db":-10.95},{"tt":95.1,"da":-11.3,"db":-11.0},{"tt":102.9,"da":-11.3,"db":-11.0},
{"tt":103.05,"da":-11.15,"db":-10.95},{"tt":103.2,"da":-11.4,"db":-11.1},{"tt":103.35,"da":-11.3,"db":-11.0},{"tt":105.8,"da":-11.3,"db":-11.0}
],
"bragg": [
{"pos":30.1,"phase":"t'"},{"pos":34.8,"phase":"t'"},{"pos":35.1,"phase":"t'"},{"pos":43.0,"phase":"t'"},{"pos":50.1,"phase":"t'"},{"pos":50.4,"phase":"t'"},
{"pos":53.7,"phase":"t'"},{"pos":59.4,"phase":"t'"},{"pos":59.7,"phase":"t'"},{"pos":60.0,"phase":"t'"},{"pos":62.7,"phase":"t'"},{"pos":68.3,"phase":"t'"},
{"pos":68.5,"phase":"t'"},{"pos":73.4,"phase":"t'"},{"pos":73.6,"phase":"t'"},{"pos":74.2,"phase":"t'"},{"pos":76.4,"phase":"t'"},{"pos":76.6,"phase":"t'"},
{"pos":78.8,"phase":"t'"},{"pos":81.6,"phase":"t'"},{"pos":81.9,"phase":"t'"},{"pos":82.0,"phase":"t'"},{"pos":82.3,"phase":"t'"},{"pos":84.0,"phase":"t'"},
{"pos":84.2,"phase":"t'"},{"pos":84.5,"phase":"t'"},{"pos":84.8,"phase":"t'"},{"pos":84.9,"phase":"t'"},{"pos":87.2,"phase":"t'"},{"pos":87.5,"phase":"t'"},
{"pos":89.7,"phase":"t'"},{"pos":94.4,"phase":"t'"},{"pos":94.6,"phase":"t'"},{"pos":94.9,"phase":"t'"},{"pos":95.1,"phase":"t'"},{"pos":99.5,"phase":"t'"},
{"pos":99.8,"phase":"t'"},{"pos":101.8,"phase":"t'"},{"pos":102.1,"phase":"t'"},{"pos":102.4,"phase":"t'"},{"pos":102.7,"phase":"t'"},{"pos":102.9,"phase":"t'"},
{"pos":103.2,"phase":"t'"},
{"pos":30.1,"phase":"t"},{"pos":34.55,"phase":"t"},{"pos":35.05,"phase":"t"},{"pos":43.0,"phase":"t"},{"pos":50.1,"phase":"t"},{"pos":50.7,"phase":"t"},
{"pos":53.8,"phase":"t"},{"pos":59.3,"phase":"t"},{"pos":60.1,"phase":"t"},{"pos":62.7,"phase":"t"},{"pos":68.4,"phase":"t"},{"pos":68.6,"phase":"t"},
{"pos":73.0,"phase":"t"},{"pos":73.2,"phase":"t"},{"pos":74.4,"phase":"t"},{"pos":76.2,"phase":"t"},{"pos":76.4,"phase":"t"},{"pos":78.3,"phase":"t"},
{"pos":78.6,"phase":"t"},{"pos":81.7,"phase":"t"},{"pos":82.0,"phase":"t"},{"pos":82.2,"phase":"t"},{"pos":82.5,"phase":"t"},{"pos":83.7,"phase":"t"},
{"pos":84.0,"phase":"t"},{"pos":84.6,"phase":"t"},{"pos":84.9,"phase":"t"},{"pos":85.2,"phase":"t"},{"pos":87.6,"phase":"t"},{"pos":87.8,"phase":"t"},
{"pos":89.9,"phase":"t"},{"pos":90.1,"phase":"t"},{"pos":94.2,"phase":"t"},{"pos":94.5,"phase":"t"},{"pos":95.5,"phase":"t"},{"pos":99.4,"phase":"t"},
{"pos":99.8,"phase":"t"},{"pos":101.3,"phase":"t"},{"pos":101.7,"phase":"t"},{"pos":102.7,"phase":"t"},{"pos":102.9,"phase":"t"},{"pos":103.2,"phase":"t"},
{"pos":103.5,"phase":"t"}
],
"legend": [{"series":"Yobs"},{"series":"Ycalc"},{"series":"Yobs–Ycalc"},{"series":"Bragg_position"}]
},
"vconcat": [
{
  "width": 623, "height": 469,
  "title": {"text": "(a)", "frame": "group", "anchor": "middle", "offset": -57, "baseline": "middle"},
  "layer": [
    {"data": {"name": "pattern"},
     "mark": {"type": "point", "shape": "circle", "filled": false, "color": "#ee2222", "size": 16, "strokeWidth": 1},
     "encoding": {
       "x": {"field": "tt", "type": "quantitative", "scale": {"domain": [20, 109], "nice": false, "zero": false},
             "axis": {"values": [20,30,40,50,60,70,80,90,100], "labels": false, "title": null, "domain": true, "ticks": true}},
       "y": {"field": "oa", "type": "quantitative", "scale": {"domain": [-20, 50], "nice": false, "zero": false},
             "axis": {"values": [-10,0,10,20,30,40,50], "labelExpr": "datum.value < 0 ? '' : datum.label", "title": "I, 10³ rel. units", "titleY": 489, "titlePadding": 11}}
     }},
    {"data": {"name": "pattern"},
     "mark": {"type": "line", "color": "#111111", "strokeWidth": 1},
     "encoding": {"x": {"field": "tt", "type": "quantitative"}, "y": {"field": "ca", "type": "quantitative"}}},
    {"data": {"name": "diff"},
     "mark": {"type": "line", "color": "#3b56a8", "strokeWidth": 1.1},
     "encoding": {"x": {"field": "tt", "type": "quantitative"}, "y": {"field": "da", "type": "quantitative"}}},
    {"data": {"name": "bragg"}, "transform": [{"filter": {"field": "phase", "equal": "t'"}}],
     "mark": {"type": "rule", "color": "#3b56a8", "strokeWidth": 1.2},
     "encoding": {"x": {"field": "pos", "type": "quantitative"}, "y": {"datum": -3.7}, "y2": {"datum": -6.0}}},
    {"data": {"name": "bragg"}, "transform": [{"filter": {"field": "phase", "equal": "t"}}],
     "mark": {"type": "rule", "color": "#ee2222", "strokeWidth": 1.2},
     "encoding": {"x": {"field": "pos", "type": "quantitative"}, "y": {"datum": -7.4}, "y2": {"datum": -9.6}}},
    {"data": {"values": [{"phase": "t'"}]},
     "mark": {"type": "text", "font": "Liberation Serif", "fontStyle": "italic", "fontSize": 18, "align": "left", "baseline": "middle", "color": "#222"},
     "encoding": {"x": {"datum": 104.1}, "y": {"datum": -5.0}, "text": {"field": "phase"}}},
    {"data": {"values": [{"phase": "t"}]},
     "mark": {"type": "text", "font": "Liberation Serif", "fontStyle": "italic", "fontSize": 18, "align": "left", "baseline": "middle", "color": "#222"},
     "encoding": {"x": {"datum": 104.1}, "y": {"datum": -8.6}, "text": {"field": "phase"}}},
    {"data": {"name": "legend"},
     "mark": {"type": "point", "filled": false, "opacity": 0},
     "encoding": {
       "color": {"field": "series", "type": "nominal", "scale": {"domain": ["Yobs","Ycalc","Yobs–Ycalc","Bragg_position"], "range": ["#ee2222","#111111","#3b56a8","#2a8a3a"]},
         "legend": {"orient": "none", "legendX": 440, "legendY": 43, "title": null, "labelFont": "Liberation Serif", "labelFontSize": 14,
           "labelColor": {"expr": "datum.value === 'Yobs' ? '#ee2222' : datum.value === 'Ycalc' ? '#111111' : datum.value === 'Bragg_position' ? '#2a8a3a' : '#3b56a8'"}}},
       "shape": {"field": "series", "type": "nominal", "scale": {"domain": ["Yobs","Ycalc","Yobs–Ycalc","Bragg_position"], "range": ["circle","M-1,0H1","M-1,0H1","M0,-1V1"]}},
       "size": {"field": "series", "type": "nominal", "scale": {"domain": ["Yobs","Ycalc","Yobs–Ycalc","Bragg_position"], "range": [14, 340, 340, 160]}}
     }}
  ]
},
{
  "width": 623, "height": 469,
  "title": {"text": "(b)", "frame": "group", "anchor": "middle", "offset": -59, "baseline": "middle"},
  "layer": [
    {"data": {"name": "pattern"},
     "mark": {"type": "point", "shape": "circle", "filled": false, "color": "#ee2222", "size": 16, "strokeWidth": 1},
     "encoding": {
       "x": {"field": "tt", "type": "quantitative", "scale": {"domain": [20, 109], "nice": false, "zero": false},
             "axis": {"values": [20,30,40,50,60,70,80,90,100], "labelExpr": "datum.value % 20 === 0 ? datum.label : ''", "title": "2θ, deg", "labelPadding": 14, "titlePadding": 2, "titleFontSize": 17}},
       "y": {"field": "ob", "type": "quantitative", "scale": {"domain": [-20, 50], "nice": false, "zero": false},
             "axis": {"values": [-10,0,10,20,30,40,50], "labelExpr": "datum.value < 0 ? '' : datum.label", "title": null}}
     }},
    {"data": {"name": "pattern"},
     "mark": {"type": "line", "color": "#111111", "strokeWidth": 1},
     "encoding": {"x": {"field": "tt", "type": "quantitative"}, "y": {"field": "cb", "type": "quantitative"}}},
    {"data": {"name": "diff"},
     "mark": {"type": "line", "color": "#3b56a8", "strokeWidth": 1.1},
     "encoding": {"x": {"field": "tt", "type": "quantitative"}, "y": {"field": "db", "type": "quantitative"}}},
    {"data": {"name": "bragg"}, "transform": [{"filter": {"field": "phase", "equal": "t'"}}],
     "mark": {"type": "rule", "color": "#3b56a8", "strokeWidth": 1.2},
     "encoding": {"x": {"field": "pos", "type": "quantitative"}, "y": {"datum": -3.7}, "y2": {"datum": -6.0}}},
    {"data": {"name": "bragg"}, "transform": [{"filter": {"field": "phase", "equal": "t"}}],
     "mark": {"type": "rule", "color": "#ee2222", "strokeWidth": 1.2},
     "encoding": {"x": {"field": "pos", "type": "quantitative"}, "y": {"datum": -7.4}, "y2": {"datum": -9.6}}},
    {"data": {"values": [{"phase": "t'"}]},
     "mark": {"type": "text", "font": "Liberation Serif", "fontStyle": "italic", "fontSize": 18, "align": "left", "baseline": "middle", "color": "#222"},
     "encoding": {"x": {"datum": 104.1}, "y": {"datum": -4.8}, "text": {"field": "phase"}}},
    {"data": {"values": [{"phase": "t"}]},
     "mark": {"type": "text", "font": "Liberation Serif", "fontStyle": "italic", "fontSize": 18, "align": "left", "baseline": "middle", "color": "#222"},
     "encoding": {"x": {"datum": 104.1}, "y": {"datum": -8.5}, "text": {"field": "phase"}}},
    {"data": {"name": "legend"},
     "mark": {"type": "point", "filled": false, "opacity": 0},
     "encoding": {
       "color": {"field": "series", "type": "nominal", "scale": {"domain": ["Yobs","Ycalc","Yobs–Ycalc","Bragg_position"], "range": ["#ee2222","#111111","#3b56a8","#2a8a3a"]},
         "legend": {"orient": "none", "legendX": 440, "legendY": 60, "title": null, "labelFont": "Liberation Serif", "labelFontSize": 14,
           "labelColor": {"expr": "datum.value === 'Yobs' ? '#ee2222' : datum.value === 'Ycalc' ? '#111111' : datum.value === 'Bragg_position' ? '#2a8a3a' : '#3b56a8'"}}},
       "shape": {"field": "series", "type": "nominal", "scale": {"domain": ["Yobs","Ycalc","Yobs–Ycalc","Bragg_position"], "range": ["circle","M-1,0H1","M-1,0H1","M0,-1V1"]}},
       "size": {"field": "series", "type": "nominal", "scale": {"domain": ["Yobs","Ycalc","Yobs–Ycalc","Bragg_position"], "range": [14, 340, 340, 160]}}
     }}
  ]
}
]
}
